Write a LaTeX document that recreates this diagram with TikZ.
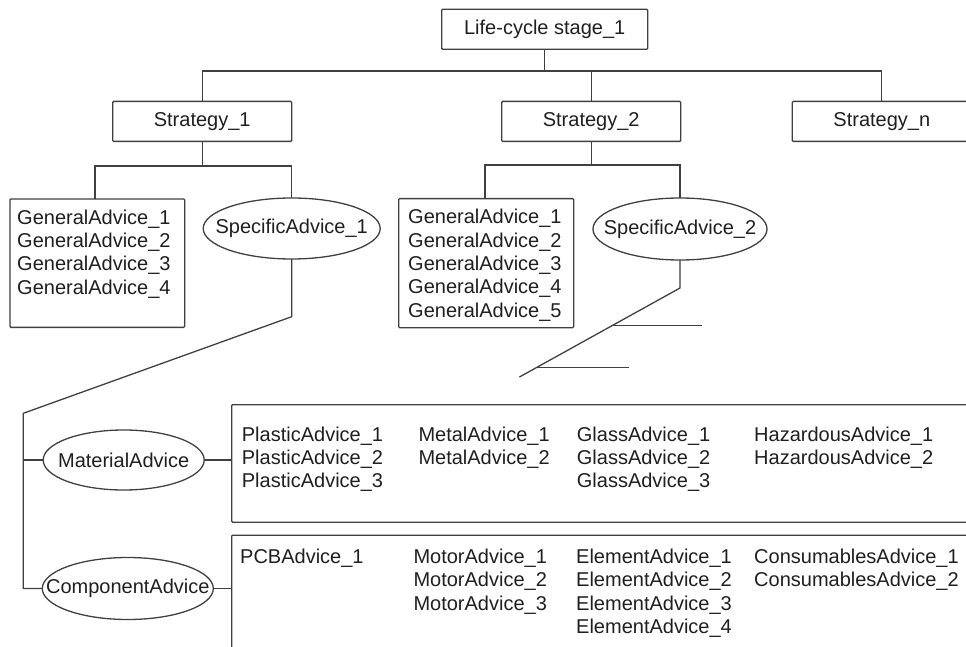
\documentclass[tikz,border=0pt]{standalone}
\usepackage{fontspec}
\setmainfont{Liberation Sans}
\usetikzlibrary{shapes.geometric}
\begin{document}
\begin{tikzpicture}[x=1pt,y=-1pt,
  ink/.style={draw=black!75, line width=1.3pt},
  label font/.style={font={\fontsize{20}{23.3}\selectfont}, text=black!88},
  treebox/.style={ink, rectangle, rounded corners=1pt, inner sep=0pt,
    minimum width=179pt, minimum height=40pt, label font},
  oval/.style={ink, ellipse, inner sep=0pt, label font},
  frame/.style={ink, rectangle, rounded corners=1pt, inner sep=0pt, anchor=north west},
  listtext/.style={anchor=north west, inner sep=0pt, align=left, label font},
  link/.style={ink, line cap=rect}
]
\useasboundingbox (0,0) rectangle (966,647);
\clip (0,0) rectangle (966,647);

% top level and strategies
\node[treebox, minimum width=206pt] (life) at (544.7,29.3) {Life-cycle stage\_1};
\node[treebox] (s1) at (202.2,121.4) {Strategy\_1};
\node[treebox] (s2) at (591.2,121.4) {Strategy\_2};
\node[treebox] (sn) at (881.8,121.4) {Strategy\_n};

\coordinate (bus0) at (544.7,71);
\draw[link] (life.south) -- (bus0);
\draw[link] (s1.north) |- (bus0) -| (sn.north);
\draw[link] (s2.north) -- (s2.north |- bus0);

% strategy 1 branch
\node[frame, minimum width=174.7pt, minimum height=128.4pt] (ga1) at (9.3,198.3) {};
\node[listtext] (ga1t) at (17,209.6) {GeneralAdvice\_1\\GeneralAdvice\_2\\GeneralAdvice\_3\\GeneralAdvice\_4};
\node[oval, minimum width=177pt, minimum height=61pt] (sa1) at (291.7,228.5) {\makebox[0pt]{SpecificAdvice\_1}};
\coordinate (b1) at (202.2,166);
\draw[link] (s1.south) -- (b1);
\draw[link] (ga1.north -| 95,0) |- (b1) -| (sa1.north);

% strategy 2 branch
\node[frame, minimum width=175pt, minimum height=129pt] (ga2) at (398,198) {};
\node[listtext] (ga2t) at (408,209.2) {GeneralAdvice\_1\\GeneralAdvice\_2\\GeneralAdvice\_3\\GeneralAdvice\_4\\GeneralAdvice\_5};
\node[oval, minimum width=174pt, minimum height=62pt] (sa2) at (680,229) {\makebox[0pt]{SpecificAdvice\_2}};
\coordinate (b2) at (591.2,165);
\draw[link] (s2.south) -- (b2);
\draw[link] (ga2.north -| 485,0) |- (b2) -| (sa2.north);

% open continuation below SpecificAdvice_2
\coordinate (t1) at (680,288);
\coordinate (t2) at (520,376.7);
\coordinate (u1) at (611.7,325.7);
\coordinate (u2) at (701.7,325.7);
\coordinate (v1) at (537.4,367.3);
\coordinate (v2) at (628.3,367.3);
\draw[link] (sa2.south) -- (t1) -- (t2);
\draw[link] (u1) -- (u2);
\draw[link] (v1) -- (v2);

% specific advice 1 expanded
\node[oval, minimum width=161pt, minimum height=60pt] (mat) at (123.7,460) {\makebox[0pt]{MaterialAdvice}};
\node[oval, minimum width=171pt, minimum height=62pt] (comp) at (127.8,588.5) {\makebox[0pt]{ComponentAdvice}};
\coordinate (k1) at (291.7,316.7);
\coordinate (k2) at (23.3,413.3);
\draw[link] (sa1.south) -- (k1) -- (k2) |- (comp.west);
\draw[link] (k2 |- mat.west) -- (mat.west);

% material advice list
\node[frame, minimum width=760pt, minimum height=117.5pt] (matbox) at (231,404) {};
\draw[link] (mat.east) -- (matbox.west |- mat.east);
\node[listtext] (mc1) at (241.7,426.4) {PlasticAdvice\_1\\PlasticAdvice\_2\\PlasticAdvice\_3};
\node[listtext] (mc2) at (418.3,426.4) {MetalAdvice\_1\\MetalAdvice\_2};
\node[listtext] (mc3) at (576.7,426.4) {GlassAdvice\_1\\GlassAdvice\_2\\GlassAdvice\_3};
\node[listtext] (mc4) at (754,426.4) {HazardousAdvice\_1\\HazardousAdvice\_2};

% component advice list
\node[frame, minimum width=760pt, minimum height=160pt] (compbox) at (231,534.5) {};
\draw[link] (comp.east) -- (compbox.west |- comp.east);
\node[listtext] (cc1) at (240,548.8) {PCBAdvice\_1};
\node[listtext] (cc2) at (413.3,548.8) {MotorAdvice\_1\\MotorAdvice\_2\\MotorAdvice\_3};
\node[listtext] (cc3) at (576,548.8) {ElementAdvice\_1\\ElementAdvice\_2\\ElementAdvice\_3\\ElementAdvice\_4};
\node[listtext] (cc4) at (754,548.8) {ConsumablesAdvice\_1\\ConsumablesAdvice\_2};
\end{tikzpicture}
\end{document}
